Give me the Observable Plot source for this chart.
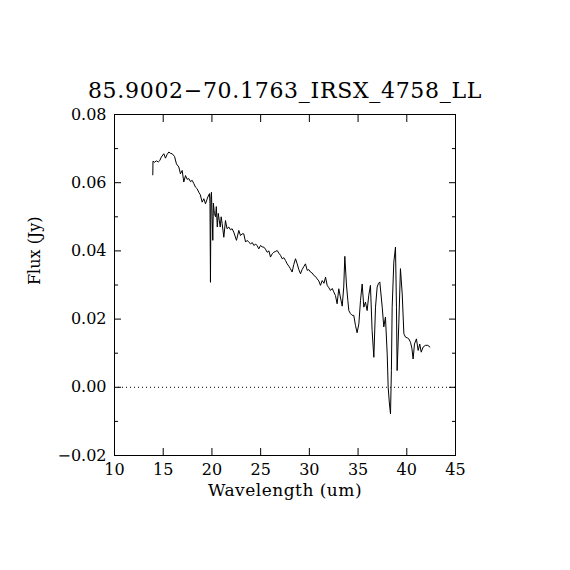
<!DOCTYPE html>
<html><head><meta charset="utf-8">
<script src="https://cdn.jsdelivr.net/npm/d3@7"></script>
<script src="https://cdn.jsdelivr.net/npm/@observablehq/plot@0.6"></script>
<style>body{margin:0;background:#fff}</style>
</head><body><div id="chart"></div>
<script>
const title = "85.9002\u221270.1763_IRSX_4758_LL";
const xLabel = "Wavelength (um)";
const yLabel = "Flux (Jy)";
const xTicks = [10, 15, 20, 25, 30, 35, 40, 45];
const yTicksMajor = [-0.02, 0, 0.02, 0.04, 0.06, 0.08];
const yTicksMinor = [-0.01, 0.01, 0.03, 0.05, 0.07];
const wavelength = [13.93,13.95,14.1,14.3,14.5,14.65,14.8,15.06,15.23,15.4,15.58,15.75,15.92,16.16,16.36,16.6,16.77,16.95,17.11,17.29,17.45,17.63,17.8,17.97,18.15,18.31,18.49,18.65,18.8,19.0,19.17,19.34,19.48,19.58,19.75,19.8,19.85,19.9,19.95,20.02,20.09,20.15,20.25,20.37,20.45,20.55,20.65,20.75,20.85,20.95,21.05,21.22,21.39,21.55,21.73,21.9,22.07,22.24,22.52,22.76,22.93,23.1,23.27,23.45,23.62,23.8,23.96,24.15,24.3,24.5,24.65,24.81,24.99,25.15,25.33,25.5,25.67,25.85,26.01,26.2,26.35,26.5,26.7,26.88,27.04,27.21,27.38,27.55,27.72,27.9,28.05,28.23,28.4,28.58,28.75,28.92,29.09,29.25,29.45,29.6,29.78,29.95,30.12,30.3,30.46,30.63,30.8,30.97,31.14,31.32,31.5,31.66,31.83,32.0,32.17,32.35,32.5,32.68,32.85,33.02,33.2,33.37,33.53,33.64,33.81,33.95,34.05,34.22,34.39,34.56,34.73,34.9,35.08,35.25,35.42,35.59,35.76,35.93,36.1,36.27,36.44,36.62,36.79,36.96,37.1,37.23,37.48,37.64,37.81,37.99,38.09,38.22,38.33,38.42,38.5,38.67,38.84,38.94,39.01,39.18,39.35,39.53,39.7,39.87,40.05,40.21,40.38,40.52,40.65,40.79,40.99,41.17,41.33,41.48,41.68,41.91,42.16,42.37];
const flux = [0.0623,0.0663,0.0660,0.0664,0.0661,0.0665,0.0675,0.0685,0.0672,0.0683,0.0690,0.0686,0.0685,0.0677,0.0655,0.0646,0.0626,0.0636,0.0602,0.0621,0.0610,0.0612,0.0603,0.0607,0.0597,0.0587,0.0582,0.0572,0.0565,0.0543,0.0553,0.0538,0.0550,0.0558,0.0568,0.0540,0.0308,0.0560,0.0572,0.0500,0.0431,0.0540,0.0510,0.0500,0.0530,0.0470,0.0510,0.0490,0.0470,0.0500,0.0480,0.0440,0.0489,0.0465,0.0470,0.0462,0.0465,0.0455,0.0431,0.0460,0.0445,0.0450,0.0450,0.0426,0.0431,0.0425,0.0421,0.0424,0.0416,0.0420,0.0415,0.0406,0.0416,0.0412,0.0411,0.0405,0.0396,0.0400,0.0382,0.0392,0.0396,0.0398,0.0401,0.0393,0.0387,0.0377,0.0380,0.0372,0.0362,0.0355,0.0348,0.0338,0.0360,0.0377,0.0362,0.0345,0.0333,0.0345,0.0355,0.0362,0.0343,0.0345,0.0338,0.0335,0.0328,0.0325,0.0318,0.0312,0.0299,0.0313,0.0305,0.0323,0.0299,0.0292,0.0284,0.0290,0.0280,0.0269,0.0245,0.0289,0.0262,0.0238,0.0294,0.0384,0.0300,0.0255,0.0225,0.0216,0.0211,0.0211,0.0182,0.0160,0.0186,0.0255,0.0303,0.0235,0.0250,0.0225,0.0270,0.0299,0.0167,0.0088,0.0235,0.0294,0.0305,0.0309,0.0235,0.0177,0.0206,0.0098,0.0000,-0.0049,-0.0078,0.0050,0.0235,0.0367,0.0411,0.0235,0.0049,0.0186,0.0348,0.0274,0.0157,0.0147,0.0145,0.0142,0.0132,0.0115,0.0083,0.0127,0.0142,0.0108,0.0127,0.0103,0.0118,0.0123,0.0123,0.0118];

const data = wavelength.map((w, i) => ({w, f: flux[i]}));
const fmt2 = d => (d < 0 ? "\u2212" : "") + Math.abs(d).toFixed(2);

const chart = Plot.plot({
  width: 570, height: 570,
  marginLeft: 114, marginRight: 115, marginTop: 114, marginBottom: 115,
  x: {domain: [10, 45]},
  y: {domain: [-0.02, 0.08]},
  style: {fontFamily: "DejaVu Serif", fontSize: "16px", background: "white", color: "black"},
  marks: [
    Plot.ruleY([0], {stroke: "black", strokeWidth: 1, strokeDasharray: "1,3"}),
    Plot.line(data, {x: "w", y: "f", stroke: "black", strokeWidth: 1}),
    Plot.frame({stroke: "black", strokeWidth: 1}),
    Plot.axisX(xTicks, {anchor: "bottom", tickSize: -7, fill: null, label: null}),
    Plot.axisX(xTicks, {anchor: "top", tickSize: -7, fill: null, label: null}),
    Plot.axisX(xTicks, {anchor: "bottom", tickSize: 0, tickPadding: 8, tickFormat: d => String(d), label: null}),
    Plot.axisY(yTicksMajor, {anchor: "left", tickSize: -7, fill: null, label: null}),
    Plot.axisY(yTicksMajor, {anchor: "right", tickSize: -7, fill: null, label: null}),
    Plot.axisY(yTicksMinor, {anchor: "left", tickSize: -4, fill: null, label: null}),
    Plot.axisY(yTicksMinor, {anchor: "right", tickSize: -4, fill: null, label: null}),
    Plot.axisY(yTicksMajor, {anchor: "left", tickSize: 0, tickPadding: 8, tickFormat: fmt2, label: null}),
    Plot.text([xLabel], {frameAnchor: "bottom", dy: 40, fontSize: 17, fill: "black"}),
    Plot.text([yLabel], {frameAnchor: "left", dx: -80, rotate: -90, fontSize: 16, fill: "black"}),
    Plot.text([title], {frameAnchor: "top", dy: -32, fontSize: 22, fill: "black"})
  ]
});
d3.select(chart).selectAll("text").filter(function() { return this.textContent === title; }).style("letter-spacing", "0.7px");
d3.select(chart).selectAll("text").filter(function() { return this.textContent === xLabel; }).style("letter-spacing", "0.5px");
document.getElementById("chart").appendChild(chart);
</script>
</body></html>
